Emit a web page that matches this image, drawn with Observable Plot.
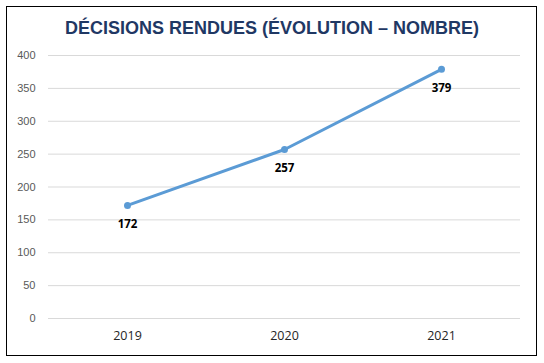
<!DOCTYPE html>
<html><head><meta charset="utf-8">
<script src="https://cdn.jsdelivr.net/npm/d3@7"></script>
<script src="https://cdn.jsdelivr.net/npm/@observablehq/plot@0.6"></script>
<style>
body{margin:0;background:#fff;}
#wrap{position:relative;width:544px;height:363px;overflow:hidden;background:#fff;}
#frame{position:absolute;left:6px;top:6px;width:531px;height:350px;border:1.5px solid #000;box-sizing:border-box;}
#title{position:absolute;left:0;width:544px;top:18px;text-align:center;font-family:"Liberation Sans",Arial,sans-serif;font-weight:bold;font-size:18px;color:#1F3864;}
#chart{position:absolute;left:0;top:45px;}
</style></head>
<body>
<div id="wrap"><div id="frame"></div><div id="title">DÉCISIONS RENDUES (ÉVOLUTION – NOMBRE)</div><div id="chart"></div></div>
<script>
const years = ["2019","2020","2021"];
const values = [172, 257, 379];
const yTicks = [0,50,100,150,200,250,300,350,400];

const data = years.map((y,i)=>({year:y, value:values[i]}));

const plot = Plot.plot({
  width:544, height:318,
  marginLeft:48, marginRight:24, marginTop:10, marginBottom:45,
  style:{fontFamily:"'Open Sans', sans-serif", background:"transparent"},
  x:{type:"point", domain:years, padding:0.5, label:null},
  y:{domain:[0,400], label:null},
  marks:[
    Plot.gridY(yTicks,{stroke:"#d9d9d9", strokeOpacity:1, strokeWidth:1}),
    Plot.axisY(yTicks,{tickSize:0, tickPadding:13, fontSize:11, fill:"#595959", fontFamily:"'Liberation Sans', Arial, sans-serif", label:null}),
    Plot.axisX({tickSize:0, tickPadding:13, fontSize:12.5, fill:"#262626", label:null}),
    Plot.line(data,{x:"year", y:"value", stroke:"#5B9BD5", strokeWidth:3}),
    Plot.dot(data,{x:"year", y:"value", r:3.5, fill:"#5B9BD5", stroke:"none"}),
    Plot.text(data,{x:"year", y:"value", text:d=>String(d.value), dy:19, fontSize:11.5, fontWeight:"bold", fill:"#000"})
  ]
});
document.getElementById("chart").appendChild(plot);
</script>
</body></html>
